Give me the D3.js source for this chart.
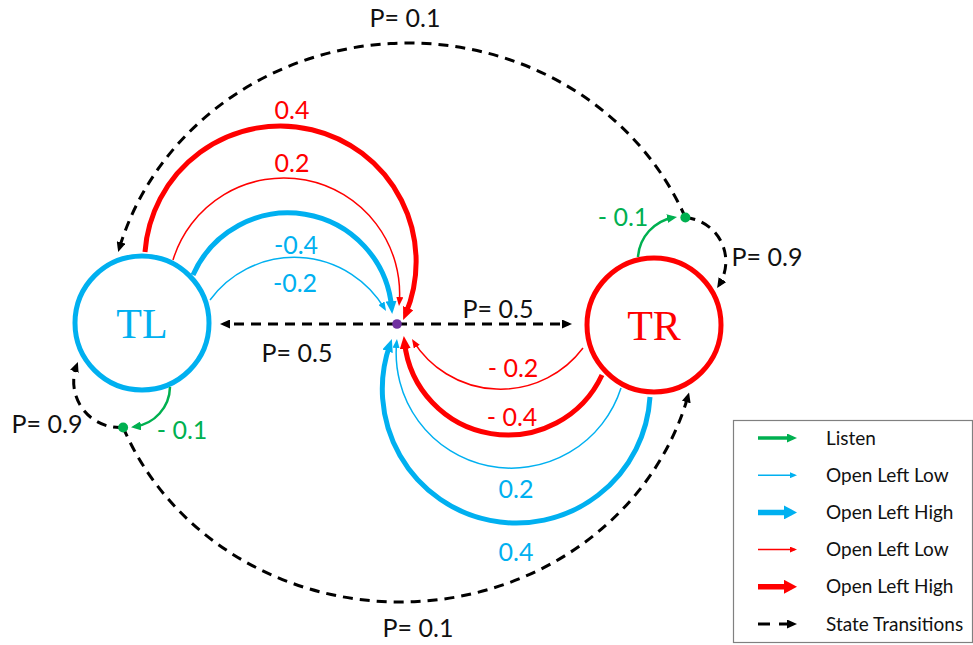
<!DOCTYPE html>
<html>
<head>
<meta charset="utf-8">
<script src="https://cdn.jsdelivr.net/npm/d3@7"></script>
<style>
  body { margin: 0; background: #fff; }
</style>
</head>
<body>
<svg id="pomdp" width="973" height="645"></svg>
<script>
const BLUE = "#00B0F0", RED = "#FF0000", GREEN = "#00B050", PURPLE = "#7030A0", INK = "#111";

// text values
const stateNames = ["TL", "TR"];
const openRewards = ["0.4", "0.2", "-0.4", "-0.2", "- 0.2", "- 0.4", "0.2", "0.4"];
const listenRewards = ["- 0.1", "- 0.1"];
const transitionProbs = ["P= 0.1", "P= 0.1", "P= 0.9", "P= 0.9", "P= 0.5", "P= 0.5"];
const legendLabels = ["Listen", "Open Left Low", "Open Left High", "Open Left Low", "Open Left High", "State Transitions"];

// layout of the diagram (pixels)
const nodes = [
  {x: 142, y: 323, color: BLUE},
  {x: 654, y: 325, color: RED}
];
const nodeR = 67;
const hub = [397, 324];

// big transition ellipses, angles in degrees (screen coords)
const topLoop = {cx: 408, cy: 325, rx: 300, ry: 282, from: -22.4, to: -165};
const bottomLoop = {cx: 400, cy: 325, rx: 298, ry: 277, from: 158.3, to: 14.1};

// open arcs: start on a state, a point on the way, arrow tip at the hub
const openArcs = [
  {color: RED,  kind: "thick", pts: [[145, 252], [280, 126], [403, 320]], at: [292, 110]},
  {color: RED,  kind: "thin",  pts: [[173, 260], [282, 178], [399, 306]], at: [292, 163]},
  {color: BLUE, kind: "thick", pts: [[193, 275], [283, 213], [392, 314]], at: [296, 245]},
  {color: BLUE, kind: "thin",  pts: [[210, 300], [283, 258], [386, 311]], at: [295, 283]},
  {color: RED,  kind: "thin",  pts: [[583, 348], [507, 389], [412, 339]], at: [513, 368]},
  {color: RED,  kind: "thick", pts: [[602, 375], [510, 435], [404, 336]], at: [512, 417]},
  {color: BLUE, kind: "thin",  pts: [[621, 388], [517, 468], [397, 339]], at: [516, 489]},
  {color: BLUE, kind: "thick", pts: [[650, 397], [517, 523], [392, 339]], at: [516, 552]}
];

const heads = {
  thick:  {L: 13, H: 11, w: 5},
  thin:   {L: 9,  H: 7,  w: 1.5},
  listen: {L: 10, H: 9,  w: 2.5},
  dash:   {L: 10, H: 9,  w: 3},
  lgThick:{L: 13, H: 14, w: 5.5},
  lgThin: {L: 7,  H: 6,  w: 1.5},
  lgListen:{L: 10, H: 9, w: 3.5}
};

const svg = d3.select("#pomdp");
const defs = svg.append("defs");

function trimOf(kind) {
  const h = heads[kind];
  return h.L * h.w / h.H + 0.5;
}

function marker(color, kind) {
  const id = "m-" + color.replace("#", "") + "-" + kind;
  if (defs.select("#" + id).empty()) {
    const h = heads[kind];
    defs.append("marker")
      .attr("id", id)
      .attr("viewBox", `0 0 ${h.L} ${h.H}`)
      .attr("refX", h.L - trimOf(kind))
      .attr("refY", h.H / 2)
      .attr("markerWidth", h.L)
      .attr("markerHeight", h.H)
      .attr("markerUnits", "userSpaceOnUse")
      .attr("orient", "auto")
      .append("path")
      .attr("d", `M0,0L${h.L},${h.H / 2}L0,${h.H}Z`)
      .attr("fill", color);
  }
  return `url(#${id})`;
}

// circular arc through three points, shortened at the end for the arrowhead
function arcThrough(pts, trim) {
  const [a, b, c] = pts;
  const sa = a[0] ** 2 + a[1] ** 2, sb = b[0] ** 2 + b[1] ** 2, sc = c[0] ** 2 + c[1] ** 2;
  const d = 2 * (a[0] * (b[1] - c[1]) + b[0] * (c[1] - a[1]) + c[0] * (a[1] - b[1]));
  const ux = (sa * (b[1] - c[1]) + sb * (c[1] - a[1]) + sc * (a[1] - b[1])) / d;
  const uy = (sa * (c[0] - b[0]) + sb * (a[0] - c[0]) + sc * (b[0] - a[0])) / d;
  const r = Math.hypot(a[0] - ux, a[1] - uy);
  const cross = (b[0] - a[0]) * (c[1] - a[1]) - (b[1] - a[1]) * (c[0] - a[0]);
  const ccw = cross < 0;
  const a0 = Math.atan2(a[1] - uy, a[0] - ux);
  const a1 = Math.atan2(c[1] - uy, c[0] - ux) + (ccw ? 1 : -1) * trim / r;
  const p = d3.path();
  p.arc(ux, uy, r, a0, a1, ccw);
  return p.toString();
}

const rad = Math.PI / 180;
function onEllipse(e, t) {
  return [e.cx + e.rx * Math.cos(t * rad), e.cy + e.ry * Math.sin(t * rad)];
}
function ellipseArc(e, trim) {
  const dir = Math.sign(e.to - e.from);
  const speed = Math.hypot(e.rx * Math.sin(e.to * rad), e.ry * Math.cos(e.to * rad));
  const t1 = e.to - dir * (trim / speed) / rad;
  const p0 = onEllipse(e, e.from), p1 = onEllipse(e, t1);
  const large = Math.abs(t1 - e.from) > 180 ? 1 : 0;
  return `M${p0}A${e.rx},${e.ry} 0 ${large} ${dir > 0 ? 1 : 0} ${p1}`;
}

// listen points sit on the big transition loops
const dotTL = onEllipse(bottomLoop, bottomLoop.from);
const dotTR = onEllipse(topLoop, topLoop.from);

const dashLayer = svg.append("g")
  .attr("fill", "none").attr("stroke", "#000")
  .attr("stroke-width", heads.dash.w).attr("stroke-dasharray", "10,7");

// big loops between the two states
[topLoop, bottomLoop].forEach(e => {
  dashLayer.append("path")
    .attr("d", ellipseArc(e, trimOf("dash")))
    .attr("marker-end", marker("#000", "dash"));
});

// self loops back to the same state
const selfLoops = [
  [dotTL, [76, 396], [78, 362]],
  [dotTR, [725, 253], [717, 288]]
];
selfLoops.forEach(pts => {
  dashLayer.append("path")
    .attr("d", arcThrough(pts, trimOf("dash")))
    .attr("marker-end", marker("#000", "dash"));
});

// hub to each state
const hubTips = [[nodes[0].x + nodeR + 11, hub[1]], [nodes[1].x - nodeR - 15, hub[1]]];
hubTips.forEach(tip => {
  const dir = Math.sign(tip[0] - hub[0]);
  dashLayer.append("path")
    .attr("d", d3.line()([hub, [tip[0] - dir * trimOf("dash"), tip[1]]]))
    .attr("marker-end", marker("#000", "dash"));
});

// listen arcs
const listenArcs = [
  [[170, 387], [160, 413], [131, 427]],
  [[638, 257], [650, 230], [677, 217]]
];
listenArcs.forEach(pts => {
  svg.append("path")
    .attr("d", arcThrough(pts, trimOf("listen")))
    .attr("fill", "none").attr("stroke", GREEN)
    .attr("stroke-width", heads.listen.w)
    .attr("marker-end", marker(GREEN, "listen"));
});

// open arcs
svg.append("g").selectAll("path")
  .data(openArcs)
  .join("path")
  .attr("d", d => arcThrough(d.pts, trimOf(d.kind)))
  .attr("fill", "none")
  .attr("stroke", d => d.color)
  .attr("stroke-width", d => heads[d.kind].w)
  .attr("marker-end", d => marker(d.color, d.kind));

// states
const st = svg.append("g").selectAll("g")
  .data(nodes)
  .join("g")
  .attr("transform", d => `translate(${d.x},${d.y})`);
st.append("circle")
  .attr("r", nodeR)
  .attr("fill", "#fff")
  .attr("stroke", d => d.color)
  .attr("stroke-width", 5);
st.append("text")
  .text((d, i) => stateNames[i])
  .attr("text-anchor", "middle")
  .attr("dy", "0.35em")
  .attr("fill", d => d.color)
  .style("font-family", "'Liberation Serif', 'Times New Roman', serif")
  .style("font-size", "42px");

// dots
svg.append("circle").attr("cx", hub[0]).attr("cy", hub[1]).attr("r", 4.8).attr("fill", PURPLE);
[dotTL, dotTR].forEach(p => {
  svg.append("circle").attr("cx", p[0]).attr("cy", p[1]).attr("r", 5).attr("fill", GREEN);
});

// labels
const labelFont = "Lato, 'Open Sans', sans-serif";
function label(txt, pos, color, size) {
  svg.append("text")
    .text(txt)
    .attr("x", pos[0]).attr("y", pos[1])
    .attr("dy", "0.35em")
    .attr("text-anchor", "middle")
    .attr("fill", color)
    .style("font-family", labelFont)
    .style("font-size", size + "px");
}
openArcs.forEach((d, i) => label(openRewards[i], d.at, d.color, 25));
const listenAt = [[182, 430], [623, 217]];
listenRewards.forEach((t, i) => label(t, listenAt[i], GREEN, 25));
const probAt = [[405, 18], [418, 628], [47, 424], [767, 257], [498, 309], [297, 353]];
transitionProbs.forEach((t, i) => label(t, probAt[i], INK, 25));

// legend
const legendStyles = [
  {color: GREEN, kind: "lgListen"},
  {color: BLUE, kind: "lgThin"},
  {color: BLUE, kind: "lgThick"},
  {color: RED, kind: "lgThin"},
  {color: RED, kind: "lgThick"},
  {color: "#000", kind: "dash", dashed: true}
];
const legend = svg.append("g");
legend.append("rect")
  .attr("x", 733.5).attr("y", 420.5)
  .attr("width", 239).attr("height", 222)
  .attr("fill", "#fff").attr("stroke", "#808080").attr("stroke-width", 1.2);
const rowY = d3.scalePoint().domain(d3.range(legendLabels.length)).range([438, 624]);
const rows = legend.selectAll("g.row")
  .data(legendStyles)
  .join("g")
  .attr("class", "row")
  .attr("transform", (d, i) => `translate(0,${rowY(i)})`);
rows.append("path")
  .attr("d", d => d3.line()([[758, 0], [797 - trimOf(d.kind), 0]]))
  .attr("fill", "none")
  .attr("stroke", d => d.color)
  .attr("stroke-width", d => heads[d.kind].w)
  .attr("stroke-dasharray", d => d.dashed ? "12,9" : null)
  .attr("marker-end", d => marker(d.color, d.kind));
rows.append("text")
  .text((d, i) => legendLabels[i])
  .attr("x", 826)
  .attr("dy", "0.35em")
  .attr("fill", INK)
  .style("font-family", labelFont)
  .style("font-size", "19px");
</script>
</body>
</html>
